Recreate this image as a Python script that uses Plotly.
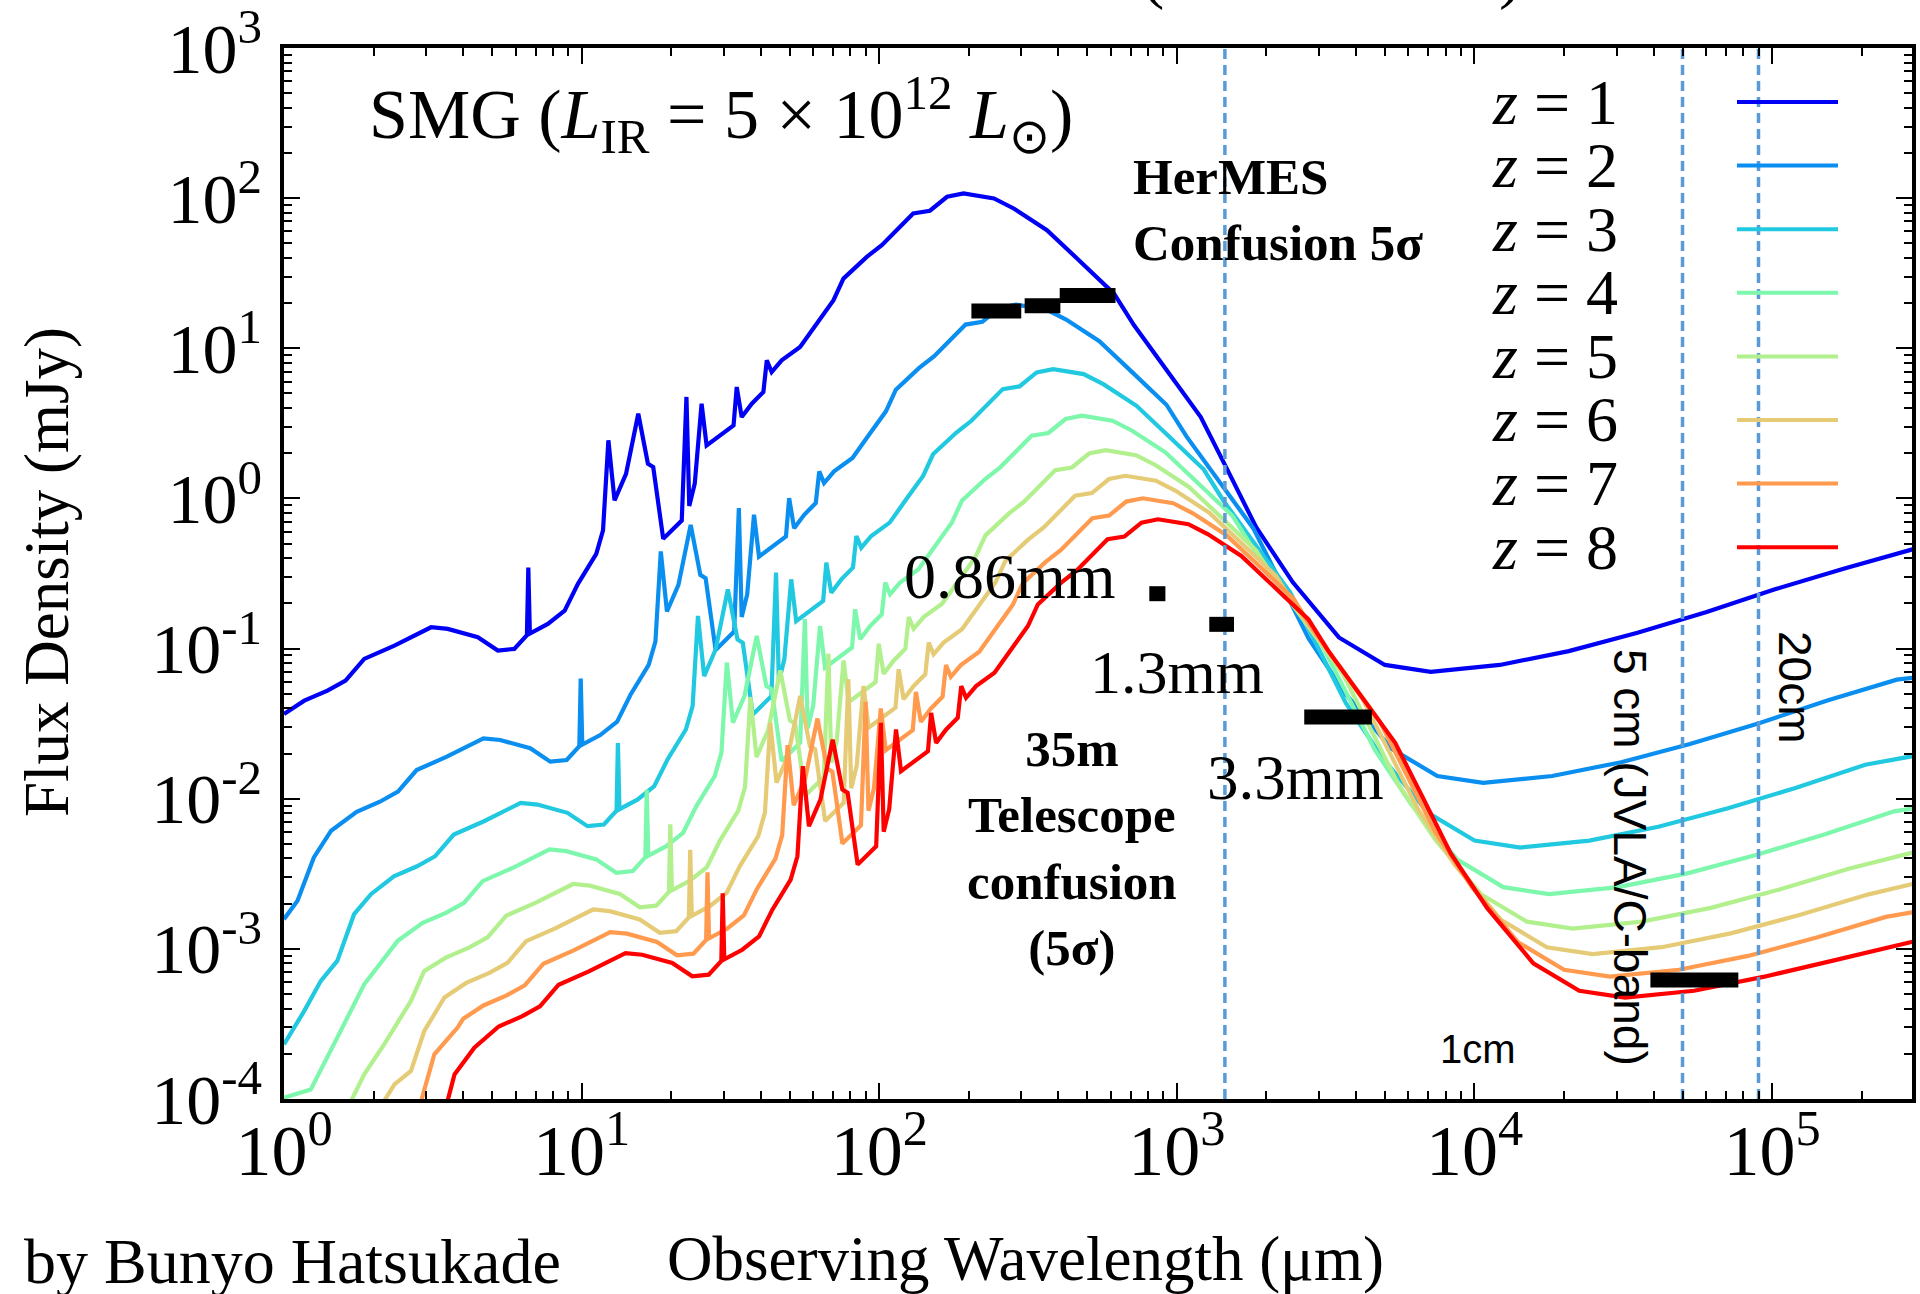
import plotly.graph_objects as go

# ---------------- data (wavelength in micron, flux as log10 of mJy) ----------------
wl_z1 = [1.0, 1.17, 1.40, 1.61, 1.86, 2.35, 3.12, 3.55, 4.48, 5.23, 5.94, 6.55, 6.62, 6.70, 7.7, 8.77, 9.72,
         11.2, 11.8, 12.3, 12.9, 14.1, 15.5, 16.7, 17.4, 18.8, 21.7, 22.5, 23.0, 24.0, 25.3, 26.3, 32.4, 33.2,
         34.5, 37.3, 40.8, 41.9, 43.5, 47.0, 54.2, 61.6, 70.2, 75.8, 90.8, 102, 115, 130, 148, 169, 192, 243,
         283, 366, 462, 615, 718, 929, 1203, 1492, 1847, 2453, 3503, 5000, 7130, 12160, 20740, 35300, 60260,
         102800, 175000, 309000]
logf_z1 = [-1.436, -1.347, -1.28, -1.213, -1.069, -0.98, -0.858, -0.869, -0.924, -1.013, -1.002, -0.91, -0.46,
           -0.90, -0.836, -0.747, -0.569, -0.369, -0.213, 0.387, -0.013, 0.164, 0.564, 0.231, 0.209, -0.269,
           -0.147, 0.676, -0.05, 0.10, 0.631, 0.353, 0.487, 0.742, 0.542, 0.631, 0.709, 0.92, 0.842, 0.92, 1.009,
           1.164, 1.32, 1.464, 1.609, 1.687, 1.787, 1.898, 1.916, 2.009, 2.031, 1.998, 1.931, 1.787, 1.598,
           1.364, 1.153, 0.853, 0.542, 0.175, -0.192, -0.559, -0.926, -1.109, -1.155, -1.109, -1.017, -0.895,
           -0.757, -0.604, -0.467, -0.329]

wl_z2 = [1.0, 1.11, 1.26, 1.44, 1.755, 2.10, 2.415, 2.79, 3.525, 4.68, 5.325, 6.72, 7.845, 8.91, 9.825, 9.93,
         10.05, 11.55, 13.16, 14.58, 16.8, 17.7, 18.45, 19.35, 21.15, 23.25, 25.05, 26.1, 28.2, 32.55, 33.75,
         34.5, 36.0, 37.95, 39.45, 48.6, 49.8, 51.75, 55.95, 61.2, 62.85, 65.25, 70.5, 81.3, 92.4, 105.3, 113.7,
         136.2, 153, 172.5, 195, 222, 253.5, 288, 364.5, 424.5, 549, 693, 922.5, 1077, 1393.5, 1804.5, 2238,
         2770.5, 3679.5, 5254.5, 7500, 10695, 18240, 31110, 52950, 90390, 154200, 262500, 309000]
logf_z2 = [-2.802, -2.68, -2.391, -2.213, -2.087, -2.02, -1.953, -1.809, -1.72, -1.598, -1.609, -1.664, -1.753,
           -1.742, -1.65, -1.20, -1.64, -1.576, -1.487, -1.309, -1.109, -0.953, -0.353, -0.753, -0.576, -0.176,
           -0.509, -0.531, -1.009, -0.887, -0.064, -0.79, -0.64, -0.109, -0.387, -0.253, 0.002, -0.198, -0.109,
           -0.031, 0.18, 0.102, 0.18, 0.269, 0.424, 0.58, 0.724, 0.869, 0.947, 1.047, 1.158, 1.176, 1.269,
           1.291, 1.258, 1.191, 1.047, 0.858, 0.624, 0.413, 0.113, -0.198, -0.565, -0.932, -1.299, -1.666,
           -1.849, -1.895, -1.849, -1.757, -1.635, -1.497, -1.344, -1.207, -1.19]

wl_z3 = [1.0, 1.17, 1.33, 1.51, 1.72, 1.96, 2.34, 2.80, 3.22, 3.72, 4.70, 6.24, 7.10, 8.96, 10.46, 11.88, 13.1,
         13.24, 13.4, 15.4, 17.54, 19.44, 22.4, 23.6, 24.6, 25.8, 28.2, 31.0, 33.4, 34.8, 37.6, 43.4, 45.0,
         46.0, 48.0, 50.6, 52.6, 64.8, 66.4, 69.0, 74.6, 81.6, 83.8, 87.0, 94.0, 108.4, 123.2, 140.4, 151.6,
         181.6, 204, 230, 260, 296, 338, 384, 486, 566, 732, 924, 1230, 1436, 1858, 2406, 2984, 3694, 4906,
         7006, 10000, 14260, 24320, 41480, 70600, 120520, 205600, 309000]
logf_z3 = [-3.636, -3.413, -3.213, -3.08, -2.769, -2.636, -2.517, -2.45, -2.383, -2.239, -2.15, -2.028, -2.039,
           -2.094, -2.183, -2.172, -2.08, -1.63, -2.07, -2.006, -1.917, -1.739, -1.539, -1.383, -0.783, -1.183,
           -1.006, -0.606, -0.939, -0.961, -1.439, -1.317, -0.494, -1.22, -1.07, -0.539, -0.817, -0.683, -0.428,
           -0.628, -0.539, -0.461, -0.25, -0.328, -0.25, -0.161, -0.006, 0.15, 0.294, 0.439, 0.517, 0.617,
           0.728, 0.746, 0.839, 0.861, 0.828, 0.761, 0.617, 0.428, 0.194, -0.017, -0.317, -0.628, -0.995,
           -1.362, -1.729, -2.096, -2.279, -2.325, -2.279, -2.187, -2.065, -1.927, -1.774, -1.71]

wl_z4 = [1.0, 1.23, 1.51, 1.86, 2.41, 2.925, 3.5, 4.025, 4.65, 5.875, 7.8, 8.875, 11.2, 13.075, 14.85, 16.375,
         16.55, 16.75, 19.25, 21.925, 24.3, 28.0, 29.5, 30.75, 32.25, 35.25, 38.75, 41.75, 43.5, 47.0, 54.25,
         56.25, 57.5, 60.0, 63.25, 65.75, 81.0, 83.0, 86.25, 93.25, 102, 104.75, 108.75, 117.5, 135.5, 154,
         175.5, 189.5, 227, 255, 287.5, 325, 370, 422.5, 480, 607.5, 707.5, 915, 1155, 1537.5, 1795, 2322.5,
         3007.5, 3730, 4617.5, 6132.5, 8757.5, 12500, 17825, 30400, 51850, 88250, 150650, 257000, 309000]
logf_z4 = [-3.991, -3.936, -3.591, -3.236, -2.947, -2.827, -2.76, -2.693, -2.549, -2.46, -2.338, -2.349, -2.404,
           -2.493, -2.482, -2.39, -1.94, -2.38, -2.316, -2.227, -2.049, -1.849, -1.693, -1.093, -1.493, -1.316,
           -0.916, -1.249, -1.271, -1.749, -1.627, -0.804, -1.53, -1.38, -0.849, -1.127, -0.993, -0.738, -0.938,
           -0.849, -0.771, -0.56, -0.638, -0.56, -0.471, -0.316, -0.16, -0.016, 0.129, 0.207, 0.307, 0.418,
           0.436, 0.529, 0.551, 0.518, 0.451, 0.307, 0.118, -0.116, -0.327, -0.627, -0.938, -1.305, -1.672,
           -2.039, -2.406, -2.589, -2.635, -2.589, -2.497, -2.375, -2.237, -2.084, -2.06]

wl_z5 = [1.68, 1.86, 2.17, 2.67, 2.96, 3.51, 4.2, 4.83, 5.58, 7.05, 9.36, 10.65, 13.44, 15.69, 17.82, 19.65,
         19.86, 20.1, 23.1, 26.31, 29.16, 33.6, 35.4, 36.9, 38.7, 42.3, 46.5, 50.1, 52.2, 56.4, 65.1, 67.5,
         69.0, 72.0, 75.9, 78.9, 97.2, 99.6, 103.5, 111.9, 122.4, 125.7, 130.5, 141, 162.6, 184.8, 210.6,
         227.4, 272.4, 306, 345, 390, 444, 507, 576, 729, 849, 1098, 1386, 1845, 2154, 2787, 3609, 4476,
         5541, 7359, 10509, 15000, 21390, 36480, 62220, 105900, 180780, 309000]
logf_z5 = [-4.013, -3.836, -3.636, -3.347, -3.147, -3.057, -2.99, -2.923, -2.779, -2.69, -2.568, -2.579, -2.634,
           -2.723, -2.712, -2.62, -2.17, -2.61, -2.546, -2.457, -2.279, -2.079, -1.923, -1.323, -1.723, -1.546,
           -1.146, -1.479, -1.501, -1.979, -1.857, -1.034, -1.76, -1.61, -1.079, -1.357, -1.223, -0.968,
           -1.168, -1.079, -1.001, -0.79, -0.868, -0.79, -0.701, -0.546, -0.39, -0.246, -0.101, -0.023, 0.077,
           0.188, 0.206, 0.299, 0.321, 0.288, 0.221, 0.077, -0.112, -0.346, -0.557, -0.857, -1.168, -1.535,
           -1.902, -2.269, -2.636, -2.819, -2.865, -2.819, -2.727, -2.605, -2.467, -2.35]

wl_z6 = [2.17, 2.35, 2.67, 2.96, 3.46, 4.095, 4.9, 5.635, 6.51, 8.225, 10.92, 12.425, 15.68, 18.305, 20.79,
         22.925, 23.17, 23.45, 26.95, 30.695, 34.02, 39.2, 41.3, 43.05, 45.15, 49.35, 54.25, 58.45, 60.9, 65.8,
         75.95, 78.75, 80.5, 84.0, 88.55, 92.05, 113.4, 116.2, 120.75, 130.55, 142.8, 146.65, 152.25, 164.5,
         189.7, 215.6, 245.7, 265.3, 317.8, 357, 402.5, 455, 518, 591.5, 672, 850.5, 990.5, 1281, 1617, 2152.5,
         2513, 3251.5, 4210.5, 5222, 6464.5, 8585.5, 12260, 17500, 24955, 42560, 72590, 123550, 210910, 309000]
logf_z6 = [-4.013, -3.902, -3.813, -3.547, -3.324, -3.227, -3.16, -3.093, -2.949, -2.86, -2.738, -2.749, -2.804,
           -2.893, -2.882, -2.79, -2.34, -2.78, -2.716, -2.627, -2.449, -2.249, -2.093, -1.493, -1.893, -1.716,
           -1.316, -1.649, -1.671, -2.149, -2.027, -1.204, -1.93, -1.78, -1.249, -1.527, -1.393, -1.138,
           -1.338, -1.249, -1.171, -0.96, -1.038, -0.96, -0.871, -0.716, -0.56, -0.416, -0.271, -0.193, -0.093,
           0.018, 0.036, 0.129, 0.151, 0.118, 0.051, -0.093, -0.282, -0.516, -0.727, -1.027, -1.338, -1.705,
           -2.072, -2.439, -2.806, -2.989, -3.035, -2.989, -2.897, -2.775, -2.637, -2.56]

wl_z7 = [2.89, 3.2, 3.83, 4.0, 4.68, 5.6, 6.44, 7.44, 9.4, 12.48, 14.2, 17.92, 20.92, 23.76, 26.2, 26.48, 26.8,
         30.8, 35.08, 38.88, 44.8, 47.2, 49.2, 51.6, 56.4, 62.0, 66.8, 69.6, 75.2, 86.8, 90.0, 92.0, 96.0,
         101.2, 105.2, 129.6, 132.8, 138, 149.2, 163.2, 167.6, 174, 188, 216.8, 246.4, 280.8, 303.2, 363.2,
         408, 460, 520, 592, 676, 768, 972, 1132, 1464, 1848, 2460, 2872, 3716, 4812, 5968, 7388, 9812, 14012,
         20000, 28520, 48640, 82960, 141200, 241040, 309000]
logf_z7 = [-4.013, -3.702, -3.524, -3.466, -3.377, -3.31, -3.243, -3.099, -3.01, -2.888, -2.899, -2.954, -3.043,
           -3.032, -2.94, -2.49, -2.93, -2.866, -2.777, -2.599, -2.399, -2.243, -1.643, -2.043, -1.866, -1.466,
           -1.799, -1.821, -2.299, -2.177, -1.354, -2.08, -1.93, -1.399, -1.677, -1.543, -1.288, -1.488,
           -1.399, -1.321, -1.11, -1.188, -1.11, -1.021, -0.866, -0.71, -0.566, -0.421, -0.343, -0.243, -0.132,
           -0.114, -0.021, 0.001, -0.032, -0.099, -0.243, -0.432, -0.666, -0.877, -1.177, -1.488, -1.855,
           -2.222, -2.589, -2.956, -3.139, -3.185, -3.139, -3.047, -2.925, -2.787, -2.75]

wl_z8 = [3.40, 3.55, 3.74, 4.36, 5.265, 6.3, 7.245, 8.37, 10.575, 14.04, 15.975, 20.16, 23.535, 26.73, 29.475,
         29.79, 30.15, 34.65, 39.465, 43.74, 50.4, 53.1, 55.35, 58.05, 63.45, 69.75, 75.15, 78.3, 84.6, 97.65,
         101.25, 103.5, 108, 113.85, 118.35, 145.8, 149.4, 155.25, 167.85, 183.6, 188.55, 195.75, 211.5,
         243.9, 277.2, 315.9, 341.1, 408.6, 459, 517.5, 585, 666, 760.5, 864, 1093.5, 1273.5, 1647, 2079,
         2767.5, 3231, 4180.5, 5413.5, 6714, 8311.5, 11038.5, 15763.5, 22500, 32085, 54720, 93330, 158850,
         309000]
logf_z8 = [-4.15, -4.013, -3.836, -3.658, -3.517, -3.45, -3.383, -3.239, -3.15, -3.028, -3.039, -3.094, -3.183,
           -3.172, -3.08, -2.63, -3.07, -3.006, -2.917, -2.739, -2.539, -2.383, -1.783, -2.183, -2.006, -1.606,
           -1.939, -1.961, -2.439, -2.317, -1.494, -2.22, -2.07, -1.539, -1.817, -1.683, -1.428, -1.628,
           -1.539, -1.461, -1.25, -1.328, -1.25, -1.161, -1.006, -0.85, -0.706, -0.561, -0.483, -0.383, -0.272,
           -0.254, -0.161, -0.139, -0.172, -0.239, -0.383, -0.572, -0.806, -1.017, -1.317, -1.628, -1.995,
           -2.362, -2.729, -3.096, -3.279, -3.325, -3.279, -3.187, -3.08, -2.944]

z_labels = ["1", "2", "3", "4", "5", "6", "7", "8"]
colors = ["#0000F5", "#0A8EF0", "#20C8E0", "#7CF7AC", "#B2F08E", "#E5CB76", "#FF9A4E", "#FF0000"]

# confusion-limit bars (micron ranges, mJy)
hermes_x0 = [204, 308, 404]
hermes_x1 = [300, 406, 622]
hermes_y = [17.7, 19.2, 22.5]
mm_x0 = [808, 1285, 2679, 39000]
mm_x1 = [915, 1556, 4520, 77000]
mm_y = [0.232, 0.145, 0.035, 6.2e-4]

# reference wavelengths (dashed lines), micron
ref_lines = [1450, 50000, 90000]

x_tickvals = [1, 10, 100, 1e3, 1e4, 1e5]
x_ticktext = ["10<sup>0</sup>", "10<sup>1</sup>", "10<sup>2</sup>", "10<sup>3</sup>", "10<sup>4</sup>", "10<sup>5</sup>"]
y_tickvals = [1e-4, 1e-3, 1e-2, 1e-1, 1, 10, 100, 1000]
y_ticktext = ["10<sup>-4</sup>", "10<sup>-3</sup>", "10<sup>-2</sup>", "10<sup>-1</sup>",
              "10<sup>0</sup>", "10<sup>1</sup>", "10<sup>2</sup>", "10<sup>3</sup>"]

# ---------------- layout geometry ----------------
W, H = 1920, 1294
L, R, T, B = 284, 1912, 48, 1099
SERIF = "Liberation Serif"
SANS = "Liberation Sans"


def px_x(X):
    return (X - L) / (R - L)


def px_y(Y):
    return (B - Y) / (B - T)


fig = go.Figure()

series = [(wl_z1, logf_z1), (wl_z2, logf_z2), (wl_z3, logf_z3), (wl_z4, logf_z4),
          (wl_z5, logf_z5), (wl_z6, logf_z6), (wl_z7, logf_z7), (wl_z8, logf_z8)]
for (wl, lf), col, lab in zip(series, colors, z_labels):
    fig.add_trace(go.Scatter(x=wl, y=[10 ** v for v in lf], mode="lines",
                             line=dict(color=col, width=4.2), name="z = " + lab,
                             hoverinfo="skip"))

for xv in ref_lines:
    fig.add_trace(go.Scatter(x=[xv, xv], y=[1e-4, 1e3], mode="lines",
                             line=dict(color="#5B9BD5", width=3.5, dash="10px,6px"), hoverinfo="skip"))

for x0, x1, yv in list(zip(hermes_x0, hermes_x1, hermes_y)) + list(zip(mm_x0, mm_x1, mm_y)):
    fig.add_trace(go.Scatter(x=[x0, x1], y=[yv, yv], mode="lines",
                             line=dict(color="black", width=15), hoverinfo="skip"))

x_minor = [m * 10 ** d for d in range(0, 6) for m in range(2, 10) if m * 10 ** d < 10 ** 5.47]
y_minor = [m * 10.0 ** d for d in range(-4, 3) for m in range(2, 10)]

axis_common = dict(showgrid=False, zeroline=False, showline=True, linecolor="black", linewidth=4,
                   mirror="allticks", ticks="inside", ticklen=16, tickwidth=2, tickcolor="black",
                   tickmode="array", ticklabeloverflow="allow", automargin=False)

fig.update_xaxes(type="log", range=[0, 5.47], tickvals=x_tickvals, ticktext=x_ticktext,
                 tickfont=dict(family=SERIF, size=72, color="black"), ticklabelstandoff=-14,
                 minor=dict(tickmode="array", tickvals=x_minor, ticks="inside", ticklen=8,
                            tickwidth=1.5, tickcolor="black"),
                 **axis_common)
fig.update_yaxes(type="log", range=[-4, 3], tickvals=y_tickvals, ticktext=y_ticktext,
                 tickfont=dict(family=SERIF, size=70, color="black"), ticklabelstandoff=4,
                 minor=dict(tickmode="array", tickvals=y_minor, ticks="inside", ticklen=8,
                            tickwidth=1.5, tickcolor="black"),
                 **axis_common)

ann = []


def add_text(text, X, Y, size, family=SERIF, xanchor="center", align="center", angle=0):
    ann.append(dict(text=text, x=px_x(X), y=px_y(Y), xref="paper", yref="paper",
                    xanchor=xanchor, yanchor="middle", align=align, showarrow=False, textangle=angle,
                    font=dict(family=family, size=size, color="black")))


add_text("SMG (<i>L</i><sub>IR</sub> = 5 × 10<sup>12</sup> <i>L</i><sub>⊙</sub>)", 367, 114, 70, xanchor="left")
add_text("<b>HerMES<br>Confusion 5σ</b>", 1131, 210, 51, xanchor="left", align="left")
add_text("0.86mm", 1010, 576, 64)
add_text("1.3mm", 1177, 672, 62)
add_text("3.3mm", 1295, 778, 63)
add_text("<b>35m<br>Telescope<br>confusion<br>(5σ)</b>", 1072, 848, 51)
add_text("1cm", 1478, 1049, 40, family=SANS)
add_text("5 cm (JVLA/C-band)", 1630, 857, 46, family=SANS, angle=90)
add_text("20cm", 1795, 687, 46, family=SANS, angle=90)
add_text("Observing Wavelength (μm)", 1025, 1259, 63)
add_text("Flux Density (mJy)", 47, 572, 63, angle=-90)
add_text("by Bunyo Hatsukade", 22, 1261, 64, xanchor="left")
add_text("(", 1152, -29, 70)
add_text(")", 1510, -29, 70)

shapes = []
for i, (lab, col) in enumerate(zip(z_labels, colors)):
    yc = 102 + i * 63.6
    add_text("<i>z</i> = " + lab, 1490, yc, 64, xanchor="left", align="left")
    shapes.append(dict(type="line", xref="paper", yref="paper", x0=px_x(1737), x1=px_x(1838),
                       y0=px_y(yc), y1=px_y(yc), line=dict(color=col, width=4)))

fig.update_layout(width=W, height=H, margin=dict(l=L, r=W - R, t=T, b=H - B, pad=0, autoexpand=False),
                  paper_bgcolor="white", plot_bgcolor="white", showlegend=False,
                  font=dict(family=SERIF, color="black"), annotations=ann, shapes=shapes,
                  hovermode=False)

fig.write_html("out.html", config={"displayModeBar": False},
               post_script="document.body.style.margin='0';document.body.style.overflow='hidden';")
